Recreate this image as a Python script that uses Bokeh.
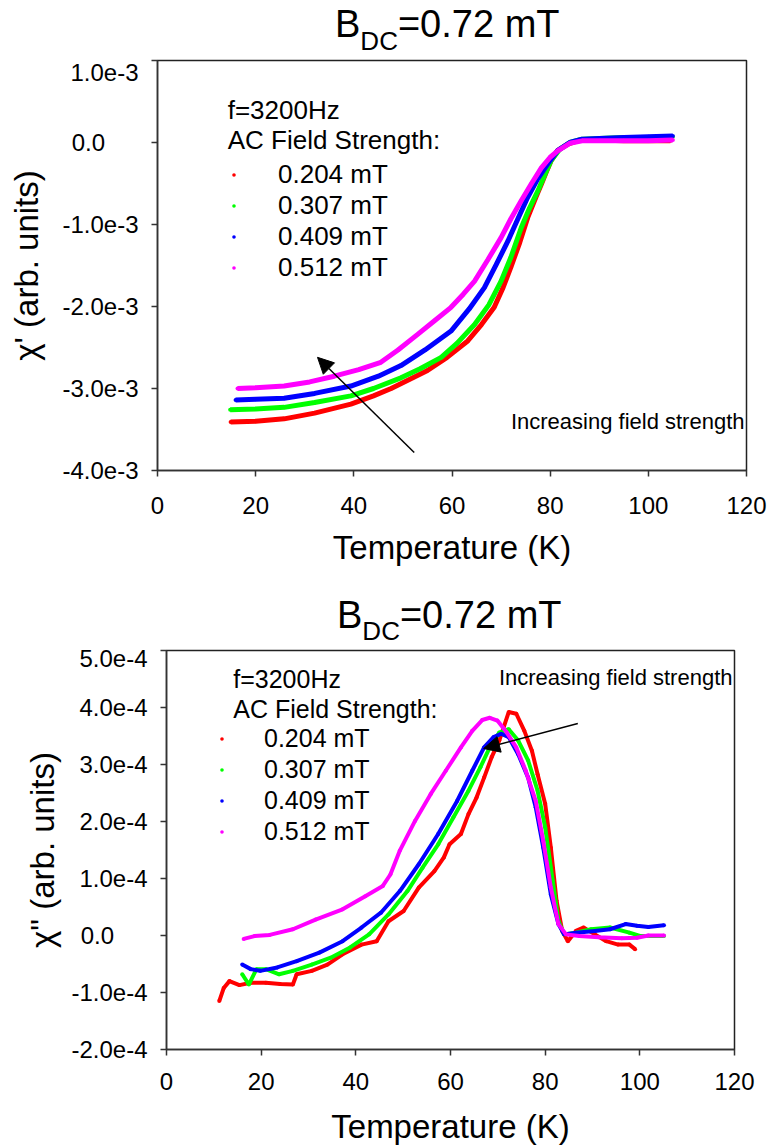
import numpy as np
from bokeh.plotting import figure
from bokeh.models import (Range1d, FixedTicker, Label, Legend, LegendItem, Arrow, NormalHead,
                          CustomJSTickFormatter, Div)
from bokeh.embed import file_html
from bokeh.resources import INLINE

FONT = "Liberation Sans"

# ---------------- data ----------------
title_main = "B"
title_sub = "DC"
title_rest = "=0.72 mT"

series_labels = ["0.204 mT", "0.307 mT", "0.409 mT", "0.512 mT"]
series_colors = ["#FF0000", "#00FF00", "#0000FF", "#FF00FF"]

x_ticks = [0, 20, 40, 60, 80, 100, 120]

# top panel: chi' (values in units of 1e-3)
top_y_ticks = [1.0e-3, 0.0, -1.0e-3, -2.0e-3, -3.0e-3, -4.0e-3]
top_y_tick_labels = ["1.0e-3", "0.0", "-1.0e-3", "-2.0e-3", "-3.0e-3", "-4.0e-3"]

t1_red = [14.9, 20, 25.8, 32, 39.4, 44, 47.6, 51, 55, 59, 63.2, 66, 68.6, 70.4, 72, 73.8, 75.4,
          77, 78.2, 79.2, 80.2, 81.5, 83.6, 86, 90, 95, 100, 104.5]
c1_red = [-3.41, -3.40, -3.37, -3.30, -3.19, -3.09, -3.00, -2.90, -2.78, -2.62, -2.42, -2.22, -2.01,
          -1.77, -1.52, -1.22, -0.92, -0.68, -0.51, -0.36, -0.22, -0.10, -0.02, 0.03, 0.03, 0.02, 0.02, 0.02]

t1_green = [14.8, 20, 25.8, 32, 39.4, 44, 49.6, 53.5, 57.8, 61, 64.6, 67.5, 70, 72, 74.1, 75.8, 77.5,
            79, 80.2, 82, 84, 86.5, 90, 95, 100, 105]
c1_green = [-3.26, -3.25, -3.23, -3.17, -3.09, -3.00, -2.87, -2.76, -2.62, -2.45, -2.22, -1.98, -1.69,
            -1.40, -1.04, -0.80, -0.59, -0.38, -0.22, -0.08, 0.00, 0.04, 0.05, 0.06, 0.06, 0.07]

t1_blue = [15.9, 20, 25.8, 32, 39.4, 45, 49.6, 54.5, 59.8, 63.5, 66.6, 69, 71.4, 73.5, 75.4, 77.5,
           79.5, 81.5, 84, 86.5, 90, 95, 100, 105]
c1_blue = [-3.14, -3.13, -3.12, -3.06, -2.97, -2.85, -2.72, -2.53, -2.30, -2.03, -1.77, -1.49, -1.20,
           -0.92, -0.67, -0.44, -0.26, -0.10, 0.00, 0.04, 0.05, 0.06, 0.07, 0.08]

t1_mag = [16.3, 20, 25.8, 31, 36, 41, 45.5, 49, 53, 56.5, 59.8, 62.3, 64.6, 67.3, 70, 72, 74.1, 76.2,
          78.2, 80, 81.6, 84, 86.5, 90, 95, 100, 105]
c1_mag = [-3.00, -2.99, -2.97, -2.92, -2.85, -2.77, -2.68, -2.53, -2.34, -2.17, -2.01, -1.85, -1.69,
          -1.43, -1.16, -0.93, -0.71, -0.50, -0.31, -0.18, -0.10, -0.01, 0.02, 0.02, 0.02, 0.02, 0.03]

# bottom panel: chi'' (values in units of 1e-4)
bot_y_ticks = [5e-4, 4e-4, 3e-4, 2e-4, 1e-4, 0.0, -1e-4, -2e-4]
bot_y_tick_labels = ["5.0e-4", "4.0e-4", "3.0e-4", "2.0e-4", "1.0e-4", "0.0", "-1.0e-4", "-2.0e-4"]

t2_red = [11.15, 12.1, 13.3, 15.4, 17.8, 21.0, 24, 26.7, 27.5, 30.7, 34.0, 37.2, 41.2, 44.4, 46.9,
          50.1, 53.3, 56.6, 58.6, 59.8, 62.2, 63.8, 65.5, 67.1, 68.7, 70.3, 72.3, 73.9, 75.6, 77.2,
          78.4, 80.0, 81.2, 82.4, 83.6, 84.8, 86.5, 88.1, 90.5, 92.9, 95.4, 97.8, 99.0]
c2_red = [-1.15, -0.92, -0.80, -0.87, -0.83, -0.83, -0.85, -0.86, -0.68, -0.62, -0.51, -0.33, -0.16,
          -0.10, 0.25, 0.43, 0.84, 1.13, 1.37, 1.60, 1.78, 2.13, 2.42, 2.77, 3.13, 3.42, 3.92, 3.89,
          3.59, 3.24, 2.83, 2.31, 1.54, 0.61, 0.08, -0.10, 0.08, 0.14, 0.02, -0.10, -0.16, -0.16, -0.24]

t2_green = [16.0, 17.4, 19.0, 21.0, 23.8, 26.7, 30.7, 34.7, 38.8, 42.8, 46.9, 50.9, 54.1, 57.4, 60.6,
            63.8, 66.3, 68.3, 70.3, 72.3, 74.3, 76.4, 78.4, 80.0, 81.6, 82.8, 84.0, 86.5, 89.7, 93.7,
            97.8, 100.2, 105.1]
c2_green = [-0.68, -0.86, -0.59, -0.59, -0.68, -0.62, -0.51, -0.39, -0.21, 0.02, 0.37, 0.78, 1.19,
            1.60, 2.07, 2.54, 2.95, 3.30, 3.56, 3.62, 3.42, 3.07, 2.54, 1.90, 0.96, 0.26, 0.02, 0.05,
            0.11, 0.14, 0.05, -0.01, -0.01]

t2_blue = [16.0, 17.8, 19.8, 23.4, 27.5, 32.3, 37.2, 41.2, 45.3, 49.3, 53.3, 57.4, 61.4, 64.6, 67.1,
           69.1, 70.7, 72.3, 74.3, 76.4, 78.0, 79.6, 81.2, 82.8, 84.0, 86.5, 90.5, 93.7, 97.0, 99.4,
           101.8, 105.1]
c2_blue = [-0.51, -0.59, -0.62, -0.56, -0.45, -0.30, -0.10, 0.14, 0.40, 0.78, 1.25, 1.78, 2.36, 2.89,
           3.30, 3.48, 3.54, 3.48, 3.18, 2.77, 2.25, 1.54, 0.72, 0.20, 0.02, 0.05, 0.08, 0.11, 0.20,
           0.17, 0.15, 0.18]

t2_mag = [16.3, 18.6, 21.8, 26.7, 31.5, 37.2, 42.0, 45.7, 47.3, 49.3, 52.5, 55.8, 59.0, 62.2, 64.6,
          66.7, 68.3, 69.9, 71.9, 73.9, 75.9, 78.0, 79.6, 81.2, 82.8, 84.4, 87.2, 91.3, 96.2, 99.4,
          101.8, 105.1]
c2_mag = [-0.06, -0.01, 0.01, 0.11, 0.28, 0.46, 0.69, 0.87, 1.07, 1.49, 2.01, 2.48, 2.89, 3.30, 3.59,
          3.78, 3.82, 3.77, 3.56, 3.30, 2.89, 2.36, 1.66, 0.84, 0.20, 0.02, -0.01, -0.03, -0.05, -0.04,
          0.00, 0.00]

# arrow annotation positions (data coordinates)
top_arrow = dict(x_start=52.3, y_start=-3.78e-3, x_end=32.6, y_end=-2.62e-3)
bot_arrow = dict(x_start=86.9, y_start=3.72e-4, x_end=67.0, y_end=3.28e-4)


# ---------------- helpers ----------------
def dlabel(p, text, x, y, size, align="left", baseline="middle"):
    """label in data coordinates (inside the frame)"""
    p.add_layout(Label(x=x, y=y, text=text, text_font=FONT, text_font_size=f"{size}px",
                       text_align=align, text_baseline=baseline, text_color="black"))


def slabel(p, text, x, y, size, align="left", baseline="middle"):
    """label in screen px relative to the frame's bottom-left corner (y up)"""
    p.add_layout(Label(x=x, y=y, x_units="screen", y_units="screen", text=text,
                       text_font=FONT, text_font_size=f"{size}px",
                       text_align=align, text_baseline=baseline, text_color="black"))


def title_div(height, left, top, sub_drop):
    html = (
        f'<div style="position:relative;width:771px;height:{height}px;margin:0;padding:0;">'
        f'<span style="position:absolute;left:{left}px;top:{top}px;font-family:\'{FONT}\';'
        f'font-size:38px;line-height:38px;white-space:nowrap;color:black;">{title_main}'
        f'<span style="font-size:26px;position:relative;top:{sub_drop}px;">{title_sub}</span>'
        f'{title_rest}</span></div>'
    )
    return Div(text=html, width=771, height=height, margin=0)


# decimal-point alignment of the y tick labels: pad labels without exponent
# with figure/punctuation spaces so that their decimal points line up
def pad_label(s):
    return s if "e" in s else s + "\u2007\u2007\u2008"


TICK_JS = """
let best = 0, d = Infinity;
for (let i = 0; i < tvals.length; i++) {
  const e = Math.abs(tvals[i] - tick);
  if (e < d) { d = e; best = i; }
}
return tlabels[best];
"""


def make_panel(series, y_range, y_ticks, y_tick_labels, frame_w, frame_h, borders, lw,
               ylab, xtick_standoff, xlab_standoff, ylab_standoff,
               header_pos, header_size, legend_loc, legend_standoff, inc_y, arrow):
    left, right, top, bottom = borders
    p = figure(width=left + frame_w + right, height=top + frame_h + bottom,
               frame_width=frame_w, frame_height=frame_h,
               x_range=Range1d(0, 120), y_range=Range1d(*y_range),
               output_backend="svg", toolbar_location=None, title=None,
               min_border_left=left, min_border_right=right,
               min_border_top=top, min_border_bottom=bottom)
    p.background_fill_color = "white"
    p.border_fill_color = "white"
    p.grid.visible = False
    p.outline_line_color = "#222222"
    p.outline_line_width = 1.5

    for ax in (p.xaxis[0], p.yaxis[0]):
        ax.axis_line_color = "#333333"
        ax.axis_line_width = 1.5
        ax.major_tick_line_color = "#333333"
        ax.major_tick_line_width = 1.5
        ax.major_tick_out = 6
        ax.major_tick_in = 0
        ax.minor_tick_line_color = None
        ax.major_label_text_font = FONT
        ax.major_label_text_font_size = "24px"
        ax.major_label_text_color = "black"
        ax.axis_label_text_font = FONT
        ax.axis_label_text_font_size = "33px"
        ax.axis_label_text_font_style = "normal"
        ax.axis_label_text_color = "black"
    p.xaxis.ticker = FixedTicker(ticks=x_ticks)
    p.xaxis.major_label_standoff = xtick_standoff
    p.xaxis.axis_label = "Temperature (K)"
    p.xaxis.axis_label_standoff = xlab_standoff

    p.yaxis.ticker = FixedTicker(ticks=y_ticks)
    p.yaxis.formatter = CustomJSTickFormatter(
        args=dict(tvals=list(y_ticks), tlabels=[pad_label(s) for s in y_tick_labels]),
        code=TICK_JS)
    p.yaxis.major_label_standoff = 13
    p.yaxis.axis_label = ylab
    p.yaxis.axis_label_standoff = ylab_standoff

    legend_items = []
    for (t, c, scale), color, lab in zip(series, series_colors, series_labels):
        y = np.array(c) * scale
        p.line(t, y, line_color=color, line_width=lw)
        sc = p.scatter(t, y, size=4, fill_color=color, line_color=None, marker="circle")
        legend_items.append(LegendItem(label=lab, renderers=[sc]))

    # legend header
    hx, hy1, hy2 = header_pos
    dlabel(p, "f=3200Hz", hx, hy1, header_size)
    dlabel(p, "AC Field Strength:", hx, hy2, header_size)

    legend = Legend(items=legend_items, location=legend_loc, orientation="vertical",
                    padding=0, margin=0, spacing=0, glyph_width=9, glyph_height=31,
                    label_height=31, label_standoff=legend_standoff,
                    label_text_font=FONT, label_text_font_size=f"{header_size}px",
                    label_text_color="black",
                    border_line_alpha=0, background_fill_alpha=0)
    p.add_layout(legend)

    slabel(p, "Increasing field strength", frame_w - 2, inc_y, 22, align="right")

    p.add_layout(Arrow(end=NormalHead(size=16, fill_color="black", line_color="black"),
                       line_color="black", line_width=1.5, **arrow))
    return p


top_series = [(t1_red, c1_red, 1e-3), (t1_green, c1_green, 1e-3),
              (t1_blue, c1_blue, 1e-3), (t1_mag, c1_mag, 1e-3)]
bot_series = [(t2_red, c2_red, 1e-4), (t2_green, c2_green, 1e-4),
              (t2_blue, c2_blue, 1e-4), (t2_mag, c2_mag, 1e-4)]

d1 = title_div(58, 335, 4.5, 13)
p1 = make_panel(top_series, (-4e-3, 1e-3), top_y_ticks, top_y_tick_labels,
                frame_w=589, frame_h=410, borders=(157, 25, 2, 104), lw=5,
                ylab="\u03c7' (arb. units)",
                xtick_standoff=20, xlab_standoff=12, ylab_standoff=14,
                header_pos=(14.3, 0.393e-3, 0.032e-3), header_size=26,
                legend_loc=(72, 187), legend_standoff=40,
                inc_y=49, arrow=top_arrow)

d2 = title_div(70, 337, 22, 12)
p2 = make_panel(bot_series, (-2e-4, 5e-4), bot_y_ticks, bot_y_tick_labels,
                frame_w=568, frame_h=399, borders=(166, 37, 6, 99), lw=4,
                ylab="\u03c7\" (arb. units)",
                xtick_standoff=17, xlab_standoff=15, ylab_standoff=7,
                header_pos=(14.1, 4.50e-4, 3.97e-4), header_size=25,
                legend_loc=(51, 202), legend_standoff=38,
                inc_y=372, arrow=bot_arrow)

open("out.html", "w").write(file_html([d1, p1, d2, p2], INLINE))
